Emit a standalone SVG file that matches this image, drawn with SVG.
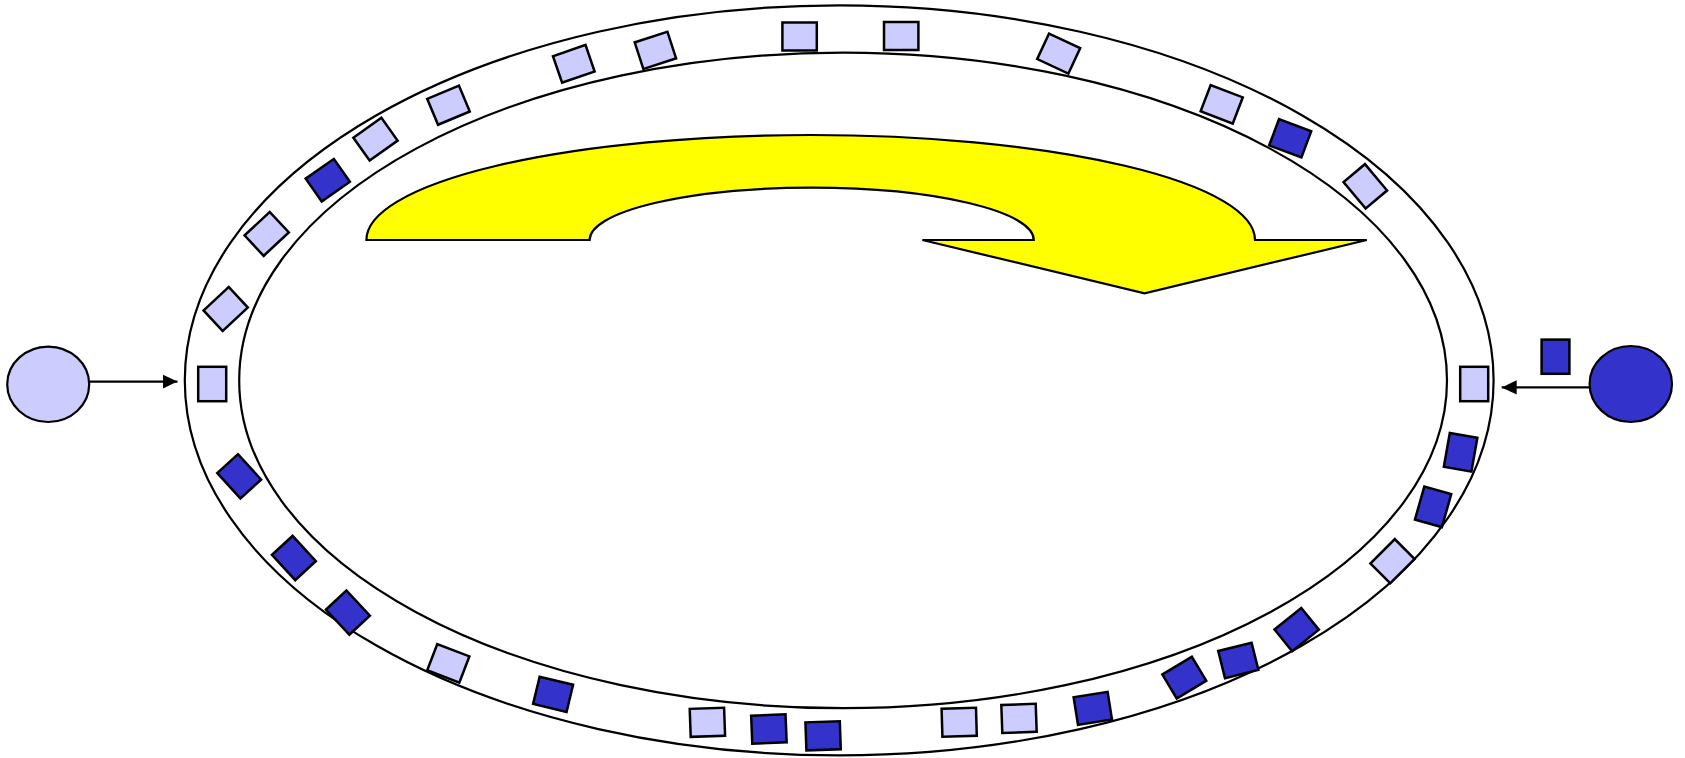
<svg xmlns="http://www.w3.org/2000/svg" width="1685" height="758" viewBox="0 0 1685 758">
<style>
.ring{fill:#fff;stroke:#000;stroke-width:2.2}
.lt{fill:#CCCCFF;stroke:#000;stroke-width:2.5}
.dk{fill:#3333CC;stroke:#000;stroke-width:2.5}
.ln{stroke:#000;stroke-width:2.2;fill:none}
.arrow{fill:#FFFF00;stroke:#000;stroke-width:2.2;stroke-linejoin:miter}
</style>
<defs>
<rect id="sq" x="-17.2" y="-14" width="34.4" height="28"/>
<marker id="ah" markerUnits="userSpaceOnUse" markerWidth="16" markerHeight="15" refX="15" refY="7.2" orient="auto">
<path d="M0,0 L15,7.2 L0,14.4 Z" fill="#000"/>
</marker>
</defs>
<rect width="1685" height="758" fill="#fff"/>
<g id="ring">
<ellipse class="ring" cx="839.2" cy="380.4" rx="654.4" ry="375"/>
<ellipse class="ring" cx="843.1" cy="380.4" rx="603.9" ry="327.8"/>
</g>
<g id="curved-arrow">
<path class="arrow" d="M366.4,240 A444.3,105 0 0 1 1255,240 L1366.8,240 L1144.6,293.3 L922.4,240 L1033.8,240 A222,52.3 0 0 0 589.6,240 Z"/>
</g>
<g id="items">
<use href="#sq" class="lt" transform="translate(212.2,384) rotate(90)"/>
<use href="#sq" class="lt" transform="translate(225.7,309) rotate(-43)"/>
<use href="#sq" class="lt" transform="translate(266.7,233.9) rotate(-43)"/>
<use href="#sq" class="dk" transform="translate(327.8,180.2) rotate(-35)"/>
<use href="#sq" class="lt" transform="translate(375.5,139.2) rotate(-35.5)"/>
<use href="#sq" class="lt" transform="translate(448.5,105.2) rotate(-22.7)"/>
<use href="#sq" class="lt" transform="translate(573.8,63.8) rotate(-19)"/>
<use href="#sq" class="lt" transform="translate(655.4,50.4) rotate(-18)"/>
<use href="#sq" class="lt" transform="translate(799.6,36.5) rotate(0)"/>
<use href="#sq" class="lt" transform="translate(901.2,36) rotate(0)"/>
<use href="#sq" class="lt" transform="translate(1058.7,53.6) rotate(25)"/>
<use href="#sq" class="lt" transform="translate(1221.7,104.3) rotate(21)"/>
<use href="#sq" class="dk" transform="translate(1290.2,138.3) rotate(20.5)"/>
<use href="#sq" class="lt" transform="translate(1365.3,186.3) rotate(50)"/>
<use href="#sq" class="lt" transform="translate(1474.2,384) rotate(90)"/>
<use href="#sq" class="dk" transform="translate(1460.6,452.3) rotate(100)"/>
<use href="#sq" class="dk" transform="translate(1433.1,506.8) rotate(105.8)"/>
<use href="#sq" class="lt" transform="translate(1392.5,561.2) rotate(135)"/>
<use href="#sq" class="dk" transform="translate(1296.7,629.6) rotate(141)"/>
<use href="#sq" class="dk" transform="translate(1238.3,660.4) rotate(-14)"/>
<use href="#sq" class="dk" transform="translate(1184.3,677.6) rotate(-31)"/>
<use href="#sq" class="dk" transform="translate(1092.8,708.4) rotate(-9)"/>
<use href="#sq" class="lt" transform="translate(1019,718.4) rotate(-2)"/>
<use href="#sq" class="lt" transform="translate(959.2,722.3) rotate(-1.7)"/>
<use href="#sq" class="dk" transform="translate(823.1,735.8) rotate(-2)"/>
<use href="#sq" class="dk" transform="translate(768.9,729) rotate(-2.3)"/>
<use href="#sq" class="lt" transform="translate(707.4,722.3) rotate(-2)"/>
<use href="#sq" class="dk" transform="translate(553.1,694.3) rotate(13.5)"/>
<use href="#sq" class="lt" transform="translate(448.3,663.3) rotate(21)"/>
<use href="#sq" class="dk" transform="translate(347.9,612.6) rotate(47)"/>
<use href="#sq" class="dk" transform="translate(293.9,558) rotate(47.4)"/>
<use href="#sq" class="dk" transform="translate(239.2,476.3) rotate(47.7)"/>
</g>
<g id="source-left">
<ellipse class="lt" cx="48.2" cy="384.3" rx="41" ry="37.7" style="stroke-width:2.2"/>
</g>
<g id="source-right">
<ellipse class="dk" cx="1630.8" cy="384" rx="41.2" ry="38" style="stroke-width:2.2"/>
</g>
<g id="waiting-item">
<rect class="dk" x="1541.6" y="339.6" width="27.8" height="34.2"/>
</g>
<g id="connectors">
<line class="ln" x1="89" y1="381.6" x2="177.5" y2="381.6" marker-end="url(#ah)"/>
<line class="ln" x1="1590" y1="387.4" x2="1501.7" y2="387.4" marker-end="url(#ah)"/>
</g>
</svg>
